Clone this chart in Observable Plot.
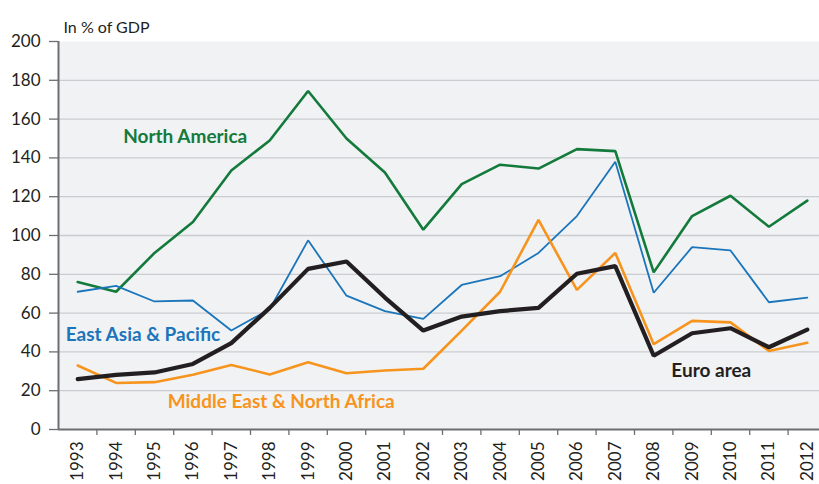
<!DOCTYPE html>
<html>
<head>
<meta charset="utf-8">
<script src="https://cdn.jsdelivr.net/npm/d3@7"></script>
<script src="https://cdn.jsdelivr.net/npm/@observablehq/plot@0.6"></script>
<style>
  html, body { margin: 0; padding: 0; background: #fff; overflow: hidden; }
  #chart svg { display: block; }
</style>
</head>
<body>
<div id="chart"></div>
<script>
const years = [1993,1994,1995,1996,1997,1998,1999,2000,2001,2002,2003,2004,2005,2006,2007,2008,2009,2010,2011,2012];
const northAmerica = [76,71,91,107,133.5,149,174.5,150,132.5,103,126.5,136.5,134.5,144.5,143.5,81,110,120.5,104.5,118];
const eastAsiaPacific = [71,74,66,66.5,51,62,97.5,69,61,57,74.5,79,91,110,138,70.5,94,92.3,65.6,68];
const middleEastNorthAfrica = [33,24,24.4,28.2,33.3,28.4,34.7,29,30.4,31.3,51,71,108,72,91,44,56,55.2,40.5,44.7];
const euroArea = [26,28.2,29.4,33.8,44.5,62.7,82.8,86.6,68,51,58.2,61,62.7,80.3,84.2,38,49.6,52.2,42.4,51.5];
const yTicks = [0,20,40,60,80,100,120,140,160,180,200];
const gridTicks = [20,40,60,80,100,120,140,160,180];
const bandEdges = [1993.5,1994.5,1995.5,1996.5,1997.5,1998.5,1999.5,2000.5,2001.5,2002.5,2003.5,2004.5,2005.5,2006.5,2007.5,2008.5,2009.5,2010.5,2011.5];
const seriesNames = ["North America","East Asia & Pacific","Middle East & North Africa","Euro area"];
const seriesColors = ["#137a3c","#1a75bb","#f7941d","#231f20"];
const seriesWidths = [2.6,1.8,2.6,4.2];
const seriesValues = [northAmerica, eastAsiaPacific, middleEastNorthAfrica, euroArea];
const labelYears = [1995.8, 1994.7, 1998.3, 2009.5];
const labelValues = [151, 49, 14.4, 30.4];

const font = "Lato, 'Open Sans', sans-serif";
const marks = [
  Plot.frame({fill: "#f1f2f4", stroke: null}),
  Plot.ruleY(gridTicks, {stroke: "#cbccd0", strokeWidth: 1.3})
];
seriesNames.forEach((name, i) => {
  const data = years.map((yr, j) => ({year: yr, value: seriesValues[i][j]}));
  marks.push(Plot.line(data, {x: "year", y: "value", stroke: seriesColors[i], strokeWidth: seriesWidths[i], strokeLinejoin: "miter"}));
});
seriesNames.forEach((name, i) => {
  marks.push(Plot.text([{name, x: labelYears[i], y: labelValues[i]}], {x: "x", y: "y", text: "name", fill: seriesColors[i], fontWeight: "bold", fontSize: 19, textAnchor: "middle", fontFamily: font}));
});
marks.push(
  Plot.ruleX([1992.5], {stroke: "#6d6e71", strokeWidth: 2}),
  Plot.ruleY([0], {stroke: "#6d6e71", strokeWidth: 2}),
  Plot.axisY({ticks: yTicks, tickSize: 9, tickPadding: 9, fontSize: 17, fill: "#231f20", stroke: "#6d6e71", strokeWidth: 1.3, tickFormat: d => String(d), label: null, fontFamily: font}),
  Plot.axisX({ticks: bandEdges, tickSize: 6, tickFormat: () => "", stroke: "#6d6e71", strokeWidth: 1.3, label: null}),
  Plot.axisX({ticks: years, tickSize: 0, tickPadding: 12, tickRotate: -90, fontSize: 17, fill: "#231f20", tickFormat: d => String(d), label: null, fontFamily: font}),
  Plot.text(["In % of GDP"], {frameAnchor: "top-left", dx: 5, dy: -20, text: d => d, fontSize: 16, fill: "#231f20", textAnchor: "start", fontFamily: font})
);

const chart = Plot.plot({
  width: 819,
  height: 484,
  marginLeft: 58,
  marginRight: 0,
  marginTop: 41,
  marginBottom: 55,
  style: {fontFamily: font, background: "#fff"},
  x: {domain: [1992.5, 2012.5], range: [58, 826]},
  y: {domain: [0, 200]},
  marks
});
document.getElementById("chart").appendChild(chart);
</script>
</body>
</html>
